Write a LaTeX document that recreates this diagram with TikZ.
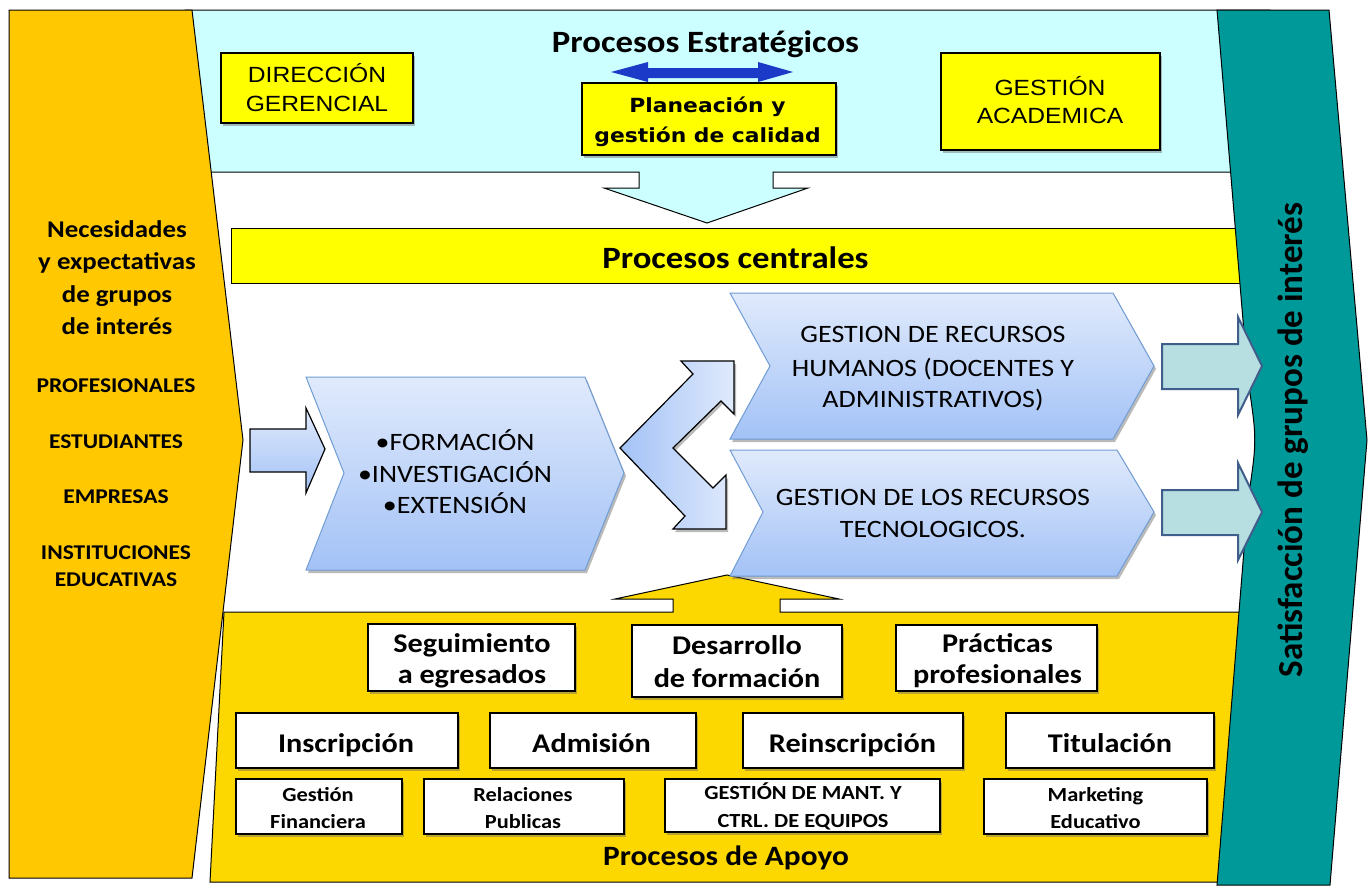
\documentclass[tikz,border=0pt]{standalone}
\usepackage{fontspec}
\usetikzlibrary{shadows}
\newfontfamily\calfont[FakeStretch=1.12]{Carlito}
\newfontfamily\calplain{Carlito}
\newfontfamily\arialfont[FakeStretch=1.12]{Liberation Sans}
\newfontfamily\dejafont[FakeStretch=1.12]{DejaVu Sans}
\newcommand{\setfs}[2]{\fontsize{#1}{#2}\selectfont}

\definecolor{orangeband}{RGB}{255,200,0}
\definecolor{stratcyan}{RGB}{204,255,255}
\definecolor{boxyellow}{RGB}{255,255,0}
\definecolor{supportyellow}{RGB}{252,216,0}
\definecolor{tealband}{RGB}{0,153,153}
\definecolor{chevtop}{RGB}{224,234,252}
\definecolor{chevbot}{RGB}{163,194,246}
\definecolor{chevedge}{RGB}{112,156,212}
\definecolor{outarrow}{RGB}{183,222,224}
\definecolor{outedge}{RGB}{64,94,140}
\definecolor{dblue}{RGB}{28,58,200}

\tikzset{
  band/.style={draw=black, line width=1pt},
  softshadow/.style={drop shadow={shadow xshift=2pt, shadow yshift=-3pt, opacity=0.45, fill=black!60}},
  ybox/.style={draw=black, line width=1.4pt, fill=boxyellow, inner sep=0pt, softshadow},
  wbox/.style={draw=black, line width=2pt, fill=white, inner sep=0pt, softshadow},
  wsmall/.style={draw=black, line width=1.2pt, fill=white, inner sep=0pt, softshadow},
  chev/.style={draw=chevedge, line width=1pt, top color=chevtop, bottom color=chevbot, softshadow},
  outarr/.style={draw=outedge, line width=2pt, fill=outarrow},
  txt/.style={inner sep=0pt, anchor=base},
  headfont/.style={txt, font=\calfont\bfseries\setfs{31}{31}},
  needfont/.style={txt, font=\calfont\bfseries\setfs{24}{24}},
  groupfont/.style={txt, font=\calfont\bfseries\setfs{21}{21}},
  chevfont/.style={txt, font=\calfont\setfs{25}{25}},
  stratfont/.style={txt, font=\arialfont\setfs{22}{22}},
  planfont/.style={txt, font=\dejafont\bfseries\setfs{19.5}{19.5}},
  bigbox/.style={txt, font=\calfont\bfseries\setfs{27}{27}},
  smallbox/.style={txt, font=\calfont\bfseries\setfs{20}{20}},
  apoyofont/.style={txt, font=\calfont\bfseries\setfs{28}{28}},
}

\begin{document}
\begin{tikzpicture}[x=1pt, y=-1pt]
\useasboundingbox (0,0) rectangle (1369,886);
\fill[white] (0,0) rectangle (1369,886);

% strategic band with its downward arrow
\path[band, fill=stratcyan] (185,10) -- (1270,10) -- (1270,172) -- (773,172) -- (773,188)
  -- (808,188) -- (707,223) -- (604,188) -- (639,188) -- (639,172) -- (185,172) -- cycle;

% support band with its upward arrow
\path[band, fill=supportyellow] (224,612) -- (673,612) -- (673,599) -- (615,599) -- (727,575)
  -- (839,599) -- (780,599) -- (780,612) -- (1270,612) -- (1270,882) -- (210,882) -- cycle;

% core processes bar
\path[band, fill=boxyellow] (231,228) rectangle (1270,283);

% stakeholder needs (left) and satisfaction (right) bands
\path[band, fill=orangeband] (9,10) -- (192,10) -- (243,440) -- (192,878) -- (9,878) -- cycle;
\path[band, fill=tealband] (1217,10) -- (1329,10) -- (1367,440) -- (1330,885) -- (1217,885)
  -- (1248,500) .. controls (1257,440) .. (1248,380) -- cycle;

% strategic boxes
\node[ybox, minimum width=192pt, minimum height=70pt] (dir) at (317,88) {};
\node[ybox, minimum width=254pt, minimum height=72pt] (plan) at (709,119) {};
\node[ybox, minimum width=219pt, minimum height=97pt] (acad) at (1050.5,101.5) {};

% double-headed arrow above the planning box
\fill[dblue] (611,72) -- (648,62) -- (648,68) -- (758,68) -- (758,62) -- (793,72)
  -- (758,82) -- (758,78) -- (648,78) -- (648,82) -- cycle;

% core process chevrons
\path[chev] (306,377) -- (585,377) -- (624,473) -- (585,570) -- (306,570) -- (344,473) -- cycle;
\path[chev] (730,293) -- (1113,293) -- (1154,366) -- (1113,439) -- (730,439) -- (770,366) -- cycle;
\path[chev] (730,450) -- (1117,450) -- (1154,512) -- (1117,576) -- (730,576) -- (763,512) -- cycle;

% input arrow
\path[draw=black, line width=1.2pt, top color=chevtop, bottom color=chevbot]
  (250,429) -- (306,429) -- (306,408) -- (325,449) -- (306,493) -- (306,472) -- (250,472) -- cycle;

% split arrow towards both resource chevrons
\path[draw=black, line width=1.2pt, left color=chevbot, right color=chevtop, softshadow]
  (681,361) -- (734,361) -- (734,414) -- (721,401) -- (673,448) -- (713,488) -- (726,475)
  -- (726,529) -- (673,529) -- (685,516) -- (620,448) -- (693,374) -- cycle;

% output arrows
\path[outarr] (1162,344) -- (1238,344) -- (1238,317) -- (1262,366) -- (1238,415) -- (1238,389) -- (1162,389) -- cycle;
\path[outarr] (1162,490) -- (1238,490) -- (1238,463) -- (1262,512) -- (1238,560) -- (1238,535) -- (1162,535) -- cycle;

% support boxes
\node[wbox, minimum width=207pt, minimum height=67pt] (seg) at (471.5,657.5) {};
\node[wbox, minimum width=210pt, minimum height=72pt] (des) at (737,661) {};
\node[wbox, minimum width=201pt, minimum height=66pt] (pra) at (996.5,658) {};
\node[wbox, minimum width=222pt, minimum height=55pt] (ins) at (347,740.5) {};
\node[wbox, minimum width=206pt, minimum height=55pt] (adm) at (593,740.5) {};
\node[wbox, minimum width=220pt, minimum height=55pt] (rei) at (853,740.5) {};
\node[wbox, minimum width=208pt, minimum height=55pt] (tit) at (1110,740.5) {};
\node[wsmall, minimum width=166pt, minimum height=55pt] (fin) at (319,806.5) {};
\node[wsmall, minimum width=200pt, minimum height=55pt] (rel) at (524,806.5) {};
\node[wsmall, minimum width=275pt, minimum height=53pt] (man) at (802.5,805.5) {};
\node[wsmall, minimum width=223pt, minimum height=55pt] (mkt) at (1095.5,806.5) {};

% headings
\node[headfont] (hstrat) at (705.5,52) {Procesos Estratégicos};
\node[headfont] (hcore) at (735.5,268) {Procesos centrales};
\node[apoyofont] (hsup) at (726,865) {Procesos de Apoyo};

% strategic labels
\node[stratfont] (dir1) at (317,82) {DIRECCIÓN};
\node[stratfont] (dir2) at (317,111) {GERENCIAL};
\node[planfont] (plan1) at (707.5,112) {Planeación y};
\node[planfont] (plan2) at (707.5,142) {gestión de calidad};
\node[stratfont] (acad1) at (1050,95) {GESTIÓN};
\node[stratfont] (acad2) at (1050,123) {ACADEMICA};

% stakeholder labels
\node[needfont] (need1) at (117,237) {Necesidades};
\node[needfont] (need2) at (117,269) {y expectativas};
\node[needfont] (need3) at (117,302) {de grupos};
\node[needfont] (need4) at (117,334) {de interés};
\node[groupfont] (g1) at (116,392) {PROFESIONALES};
\node[groupfont] (g2) at (116,448) {ESTUDIANTES};
\node[groupfont] (g3) at (116,503) {EMPRESAS};
\node[groupfont] (g4) at (116,559) {INSTITUCIONES};
\node[groupfont] (g5) at (116,586) {EDUCATIVAS};

% chevron labels
\node[chevfont] (c1) at (455,450) {\textbullet FORMACIÓN};
\node[chevfont] (c2) at (455,482) {\textbullet INVESTIGACIÓN};
\node[chevfont] (c3) at (455,513) {\textbullet EXTENSIÓN};
\node[chevfont] (rh1) at (933,342) {GESTION DE RECURSOS};
\node[chevfont] (rh2) at (933,376) {HUMANOS (DOCENTES Y};
\node[chevfont] (rh3) at (933,407) {ADMINISTRATIVOS)};
\node[chevfont] (rt1) at (933,505) {GESTION DE LOS RECURSOS};
\node[chevfont] (rt2) at (933,537) {TECNOLOGICOS.};

% support labels
\node[bigbox] (seg1) at (472,652) {Seguimiento};
\node[bigbox] (seg2) at (472,683) {a egresados};
\node[bigbox] (des1) at (737,654) {Desarrollo};
\node[bigbox] (des2) at (737,687) {de formación};
\node[bigbox] (pra1) at (997.5,652) {Prácticas};
\node[bigbox] (pra2) at (997.5,683) {profesionales};
\node[bigbox] (ins1) at (346,752) {Inscripción};
\node[bigbox] (adm1) at (591.5,752) {Admisión};
\node[bigbox] (rei1) at (852.5,752) {Reinscripción};
\node[bigbox] (tit1) at (1110,752) {Titulación};
\node[smallbox] (fin1) at (318,801) {Gestión};
\node[smallbox] (fin2) at (318,828) {Financiera};
\node[smallbox] (rel1) at (523,801) {Relaciones};
\node[smallbox] (rel2) at (523,828) {Publicas};
\node[smallbox] (man1) at (803,799) {GESTIÓN DE MANT. Y};
\node[smallbox] (man2) at (803,827) {CTRL. DE EQUIPOS};
\node[smallbox] (mkt1) at (1095.5,801) {Marketing};
\node[smallbox] (mkt2) at (1095.5,828) {Educativo};

% satisfaction label
\node[txt, rotate=90, font=\calplain\bfseries\setfs{35}{35}] (sat) at (1302,440) {Satisfacción de grupos de interés};
\end{tikzpicture}
\end{document}
